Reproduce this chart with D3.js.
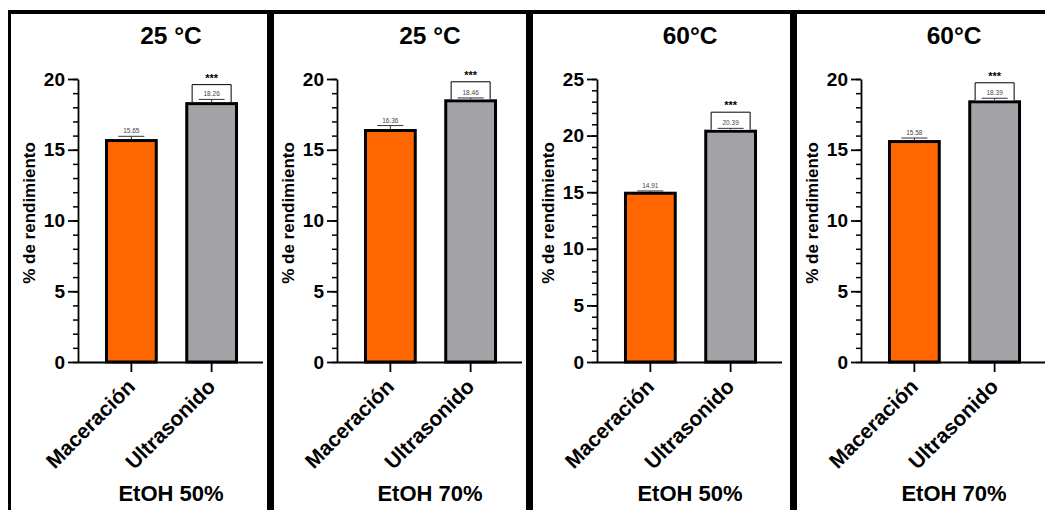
<!DOCTYPE html>
<html>
<head>
<meta charset="utf-8">
<script src="https://cdn.jsdelivr.net/npm/d3@7"></script>
<style>
  body { margin: 0; background: #fff; }
  text { font-family: "Liberation Sans", Arial, sans-serif; }
</style>
</head>
<body>
<script>
// data
let titles = ["25 °C", "25 °C", "60°C", "60°C"];
let solvents = ["EtOH 50%", "EtOH 70%", "EtOH 50%", "EtOH 70%"];
let methods = ["Maceración", "Ultrasonido"];
let maceracion = [15.65, 16.36, 14.91, 15.58];
let ultrasonido = [18.26, 18.46, 20.39, 18.39];
let errMac = [0.3, 0.35, 0.2, 0.25];
let errUlt = [0.3, 0.2, 0.25, 0.25];
let yMax = [20, 20, 25, 20];
let stars = ["***", "***", "***", "***"];

let w = 1045, h = 510;
let colors = ["#ff6600", "#a3a2a7"];
let offsets = [0, 259, 519, 783];

let svg = d3.select("body").append("svg")
  .attr("width", w).attr("height", h);

// frame lines
svg.append("rect").attr("x", 8).attr("y", 10).attr("width", w - 8).attr("height", 4).attr("fill", "#000");
svg.append("rect").attr("x", 8).attr("y", 10).attr("width", 3).attr("height", h - 10).attr("fill", "#000");
[267, 526, 790].forEach(x => {
  svg.append("rect").attr("x", x).attr("y", 10).attr("width", 7).attr("height", h - 10).attr("fill", "#000");
});

let plotTop = 79, plotBottom = 362;

titles.forEach((t, i) => {
  let g = svg.append("g").attr("transform", "translate(" + offsets[i] + ",0)");
  let vals = [maceracion[i], ultrasonido[i]];
  let errs = [errMac[i], errUlt[i]];

  let x = d3.scaleBand().domain(methods).range([80, 263]).paddingInner(0.38).paddingOuter(0.33);
  let y = d3.scaleLinear().domain([0, yMax[i]]).range([plotBottom, plotTop]);

  // title
  g.append("text").attr("x", 171).attr("y", 44).attr("text-anchor", "middle")
    .attr("font-size", 24.5).attr("font-weight", "bold").text(t);

  // minor ticks
  let minor = d3.axisLeft(y).tickValues(d3.range(0, yMax[i] + 1, 1)).tickSize(5).tickFormat("");
  let mg = g.append("g").attr("transform", "translate(78,0)").call(minor);
  mg.select(".domain").remove();
  mg.selectAll("line").attr("stroke", "#000").attr("stroke-width", 1.5);

  // major axis
  let yAxis = d3.axisLeft(y).tickValues(d3.range(0, yMax[i] + 1, 5)).tickSize(10).tickSizeOuter(0).tickPadding(3);
  let ya = g.append("g").attr("transform", "translate(78,0)").call(yAxis);
  ya.select(".domain").attr("stroke-width", 1.8);
  ya.selectAll("line").attr("stroke-width", 1.8);
  ya.selectAll("text").attr("font-size", 19).attr("font-weight", "bold").attr("fill", "#000")
    .attr("font-family", "Liberation Sans, Arial, sans-serif");

  // x axis
  let xAxis = d3.axisBottom(x).tickSize(10).tickSizeOuter(0).tickFormat("");
  let xa = g.append("g").attr("transform", "translate(0," + plotBottom + ")").call(xAxis);
  xa.select(".domain").attr("stroke-width", 1.8).attr("d", "M78,0.5H263");
  xa.selectAll("line").attr("stroke-width", 1.8);

  g.selectAll(".xlab").data(methods).enter().append("text")
    .attr("class", "xlab")
    .attr("transform", d => "translate(" + (x(d) + x.bandwidth() / 2 + 5) + "," + (plotBottom + 26) + ") rotate(-45)")
    .attr("text-anchor", "end")
    .attr("font-size", 21).attr("font-weight", "bold")
    .text(d => d);

  // bars
  g.selectAll(".bar").data(vals).enter().append("rect")
    .attr("x", (d, k) => x(methods[k]))
    .attr("y", d => y(d))
    .attr("width", x.bandwidth())
    .attr("height", d => plotBottom - y(d))
    .attr("fill", (d, k) => colors[k])
    .attr("stroke", "#000").attr("stroke-width", 3);

  // significance box on second bar
  let cx2 = x(methods[1]) + x.bandwidth() / 2;
  let bt = y(vals[1]);
  g.append("path")
    .attr("d", "M" + (cx2 - 19.5) + "," + (bt - 1.5) + "V" + (bt - 19) + "H" + (cx2 + 19.5) + "V" + (bt - 1.5))
    .attr("fill", "#fff").attr("stroke", "#000").attr("stroke-width", 1);
  g.append("text").attr("x", cx2).attr("y", bt - 22).attr("text-anchor", "middle")
    .attr("font-size", 11).attr("font-weight", "bold").text(stars[i]);

  // error bars + value labels
  vals.forEach((v, k) => {
    let cx = x(methods[k]) + x.bandwidth() / 2;
    let ye = y(v + errs[k]);
    g.append("line").attr("x1", cx).attr("x2", cx).attr("y1", y(v) - 1.5).attr("y2", ye)
      .attr("stroke", "#333").attr("stroke-width", 1);
    g.append("line").attr("x1", cx - 13).attr("x2", cx + 13).attr("y1", ye).attr("y2", ye)
      .attr("stroke", "#333").attr("stroke-width", 1);
    g.append("text").attr("x", cx).attr("y", ye - 3).attr("text-anchor", "middle")
      .attr("font-size", 6.5).attr("fill", "#444").text(v.toFixed(2));
  });

  // y label
  g.append("text")
    .attr("transform", "translate(35,213) rotate(-90)")
    .attr("text-anchor", "middle")
    .attr("font-size", 17).attr("font-weight", "bold")
    .text("% de rendimiento");

  // solvent label
  g.append("text").attr("x", 171).attr("y", 501).attr("text-anchor", "middle")
    .attr("font-size", 22).attr("font-weight", "bold").text(solvents[i]);
});
</script>
</body>
</html>
